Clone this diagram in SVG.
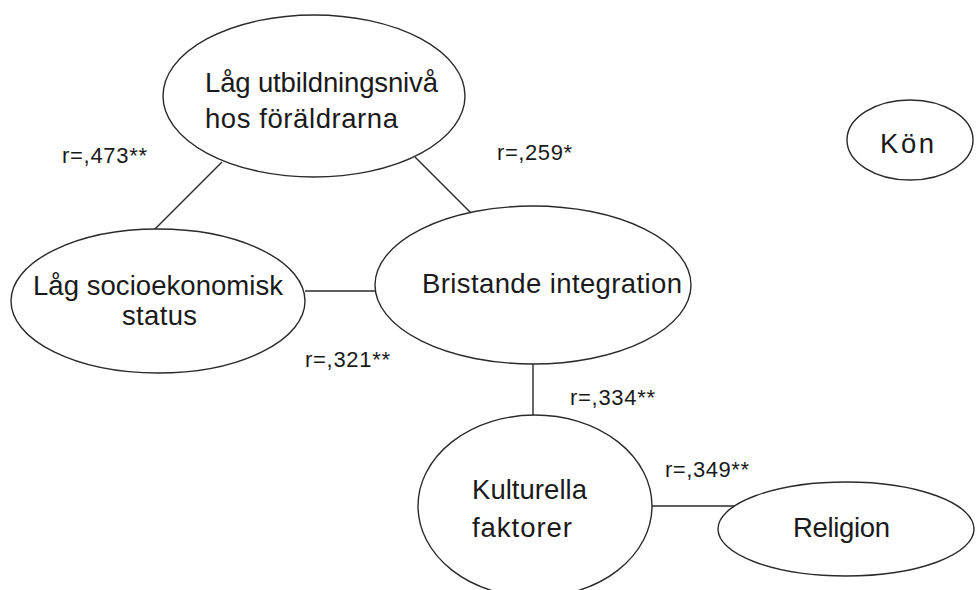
<svg xmlns="http://www.w3.org/2000/svg" width="976" height="590" viewBox="0 0 976 590">
<style>
.node{fill:#ffffff;stroke:#2a2a2a;stroke-width:1.4}
.edge{stroke:#2a2a2a;stroke-width:1.4;fill:none}
.t{font-family:"Liberation Sans",Arial,sans-serif;font-size:27.5px;fill:#1a1a1a}
.lbl{font-family:"Liberation Sans",Arial,sans-serif;font-size:22px;fill:#1a1a1a}
</style>
<rect width="976" height="590" fill="#ffffff"/>
<g id="connectors">
<line class="edge" x1="222" y1="162" x2="154" y2="230"/>
<line class="edge" x1="415" y1="157" x2="473" y2="215"/>
<line class="edge" x1="305" y1="291" x2="376" y2="291"/>
<line class="edge" x1="533" y1="364" x2="533" y2="416"/>
<line class="edge" x1="651" y1="506" x2="734" y2="506"/>
</g>
<g id="labels">
<text class="lbl" x="62" y="163" textLength="85">r=,473**</text>
<text class="lbl" x="497" y="160" textLength="75">r=,259*</text>
<text class="lbl" x="305" y="367" textLength="85">r=,321**</text>
<text class="lbl" x="570" y="405" textLength="85">r=,334**</text>
<text class="lbl" x="665" y="477" textLength="84">r=,349**</text>
</g>
<g id="node-utbildning">
<ellipse class="node" cx="314" cy="96" rx="151" ry="81"/>
<text class="t" x="205" y="92" textLength="233">Låg utbildningsnivå</text>
<text class="t" x="205" y="128" textLength="193">hos föräldrarna</text>
</g>
<g id="node-socio">
<ellipse class="node" cx="158" cy="301" rx="147" ry="72"/>
<text class="t" x="33" y="295" textLength="250">Låg socioekonomisk</text>
<text class="t" x="122" y="325" textLength="75">status</text>
</g>
<g id="node-integration">
<ellipse class="node" cx="533" cy="285" rx="158" ry="79"/>
<text class="t" x="422" y="293" textLength="260">Bristande integration</text>
</g>
<g id="node-kulturella">
<ellipse class="node" cx="535" cy="506" rx="117" ry="91"/>
<text class="t" x="472" y="499" textLength="115">Kulturella</text>
<text class="t" x="472" y="537" textLength="100">faktorer</text>
</g>
<g id="node-religion">
<ellipse class="node" cx="846" cy="529" rx="128" ry="47"/>
<text class="t" x="793" y="537" textLength="97">Religion</text>
</g>
<g id="node-kon">
<ellipse class="node" cx="910" cy="140" rx="63" ry="40"/>
<text class="t" x="880" y="153" textLength="54">Kön</text>
</g>
</svg>
